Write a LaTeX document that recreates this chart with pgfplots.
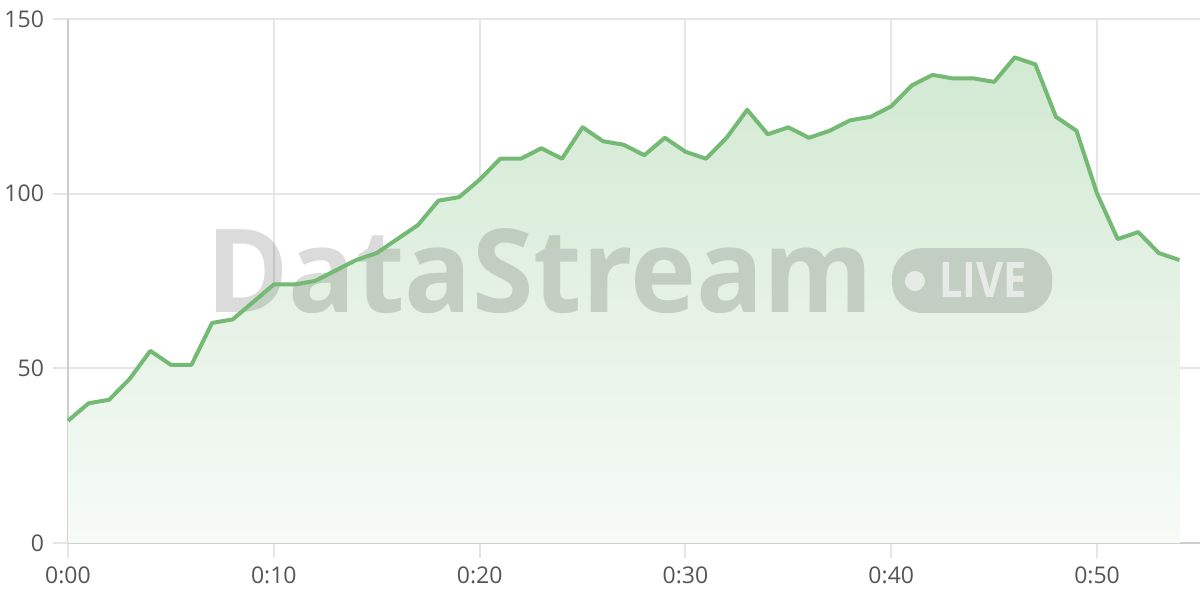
\documentclass[border=0pt]{standalone}
\usepackage{pgfplots}
\pgfplotsset{compat=1.18}
\usepackage{fontspec}
\setmainfont{Open Sans}
\definecolor{linegreen}{RGB}{116,186,116}
\definecolor{filltop}{RGB}{210,233,210}
\definecolor{fillbot}{RGB}{247,251,247}
\definecolor{gridgray}{RGB}{230,230,230}
\definecolor{axisgray}{RGB}{205,205,205}
\definecolor{labelgray}{RGB}{85,85,85}
\begin{document}
\begin{tikzpicture}
\path[use as bounding box] (-34pt,-28.5pt) rectangle (566pt,271.5pt);
\begin{axis}[
    at={(0,0)}, anchor=origin,
    scale only axis,
    width=566pt, height=262pt,
    xmin=0, xmax=55,
    ymin=0, ymax=150,
    axis x line*=bottom,
    axis y line*=left,
    axis line style={axisgray, line width=1pt},
    xtick={0,10,20,30,40,50},
    xticklabels={0:00,0:10,0:20,0:30,0:40,0:50},
    ytick={0,50,100,150},
    grid=major,
    grid style={gridgray, line width=1pt},
    tick align=outside,
    major tick length=7.5pt,
    tick style={gridgray, line width=1pt},
    ticklabel style={font=\fontsize{11.5}{13}\selectfont, text=labelgray},
    /pgf/number format/assume math mode=true,
    xticklabel style={yshift=-1pt},
    yticklabel style={xshift=-1pt},
    clip=false,
]
\addplot[draw=none, top color=filltop, bottom color=fillbot] coordinates {
(0,35)(1,40)(2,41)(3,47)(4,55)(5,51)(6,51)(7,63)(8,64)(9,69)
(10,74)(11,74)(12,75)(13,78)(14,81)(15,83)(16,87)(17,91)(18,98)(19,99)
(20,104)(21,110)(22,110)(23,113)(24,110)(25,119)(26,115)(27,114)(28,111)(29,116)
(30,112)(31,110)(32,116)(33,124)(34,117)(35,119)(36,116)(37,118)(38,121)(39,122)
(40,125)(41,131)(42,134)(43,133)(44,133)(45,132)(46,139)(47,137)(48,122)(49,118)
(50,100)(51,87)(52,89)(53,83)(54,81)
} \closedcycle;
% watermark
\node[anchor=base, inner sep=0pt, text=black, text opacity=0.14,
      font=\fontsize{58}{60}\selectfont\bfseries] at (axis cs:22.93,65.85) {\scalebox{0.962}[1]{DataStream}};
\fill[black, opacity=0.14, rounded corners=15pt]
    (axis cs:40.04,65.85) rectangle (axis cs:47.82,84.4);
\fill[white, opacity=0.6] (axis cs:41.15,75.0) circle[radius=5pt];
\node[anchor=base west, inner sep=0pt, text=white, text opacity=0.6,
      font=\fontsize{24.5}{26}\selectfont\bfseries] at (axis cs:42.32,70.4) {\scalebox{0.85}[1]{LIVE}};
\addplot[color=linegreen, line width=2pt, line join=round] coordinates {
(0,35)(1,40)(2,41)(3,47)(4,55)(5,51)(6,51)(7,63)(8,64)(9,69)
(10,74)(11,74)(12,75)(13,78)(14,81)(15,83)(16,87)(17,91)(18,98)(19,99)
(20,104)(21,110)(22,110)(23,113)(24,110)(25,119)(26,115)(27,114)(28,111)(29,116)
(30,112)(31,110)(32,116)(33,124)(34,117)(35,119)(36,116)(37,118)(38,121)(39,122)
(40,125)(41,131)(42,134)(43,133)(44,133)(45,132)(46,139)(47,137)(48,122)(49,118)
(50,100)(51,87)(52,89)(53,83)(54,81)
};
\end{axis}
\end{tikzpicture}
\end{document}
